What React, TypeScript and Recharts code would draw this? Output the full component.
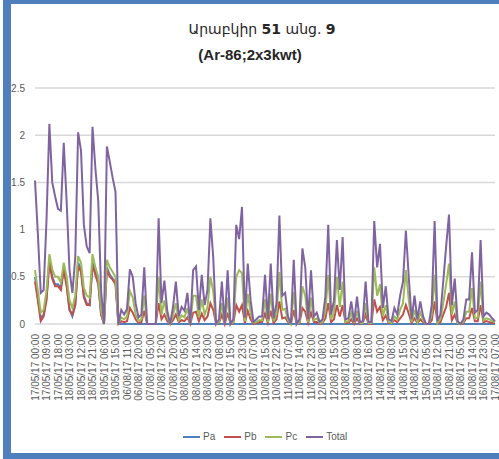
import React from 'react';
import { LineChart, Line, XAxis, YAxis, CartesianGrid } from 'recharts';

// tick labels, one every STEP points
const TIME_LABELS = [
  '17/05/17 00:00', '17/05/17 09:00', '17/05/17 18:00', '18/05/17 03:00',
  '18/05/17 12:00', '18/05/17 21:00', '19/05/17 06:00', '19/05/17 15:00',
  '06/08/17 11:00', '06/08/17 20:00', '07/08/17 05:00', '07/08/17 12:00',
  '07/08/17 20:00', '08/08/17 05:00', '08/08/17 14:00', '08/08/17 23:00',
  '09/08/17 08:00', '09/08/17 15:00', '09/08/17 23:00', '10/08/17 07:00',
  '10/08/17 15:00', '10/08/17 22:00', '11/08/17 07:00', '11/08/17 14:00',
  '11/08/17 23:00', '12/08/17 08:00', '12/08/17 15:00', '13/08/17 00:00',
  '13/08/17 08:00', '13/08/17 16:00', '14/08/17 00:00', '14/08/17 08:00',
  '14/08/17 15:00', '14/08/17 22:00', '15/08/17 05:00', '15/08/17 12:00',
  '15/08/17 21:00', '16/08/17 05:00', '16/08/17 14:00', '16/08/17 23:00',
  '17/08/17 07:00',
];
const STEP = 4;

const PA = [
  0.5, 0.28, 0.06, 0.1, 0.28, 0.68, 0.5, 0.42,
  0.42, 0.38, 0.6, 0.42, 0.15, 0.08, 0.2, 0.65,
  0.58, 0.3, 0.22, 0.2, 0.65, 0.55, 0.45, 0.1,
  0, 0.6, 0.52, 0.48, 0.45, 0, 0, 0,
  0, 0, 0, 0, 0, 0, 0, 0,
  0, 0, 0, 0, 0, 0, 0, 0,
  0, 0, 0, 0, 0, 0, 0, 0,
  0, 0, 0, 0, 0, 0, 0, 0,
  0, 0, 0, 0, 0, 0, 0, 0,
  0, 0, 0, 0, 0, 0, 0, 0,
  0, 0, 0, 0, 0, 0, 0, 0,
  0, 0, 0, 0, 0, 0, 0, 0,
  0, 0, 0, 0, 0, 0, 0, 0,
  0, 0, 0, 0, 0, 0, 0, 0,
  0, 0, 0, 0, 0, 0, 0, 0,
  0, 0, 0, 0, 0, 0, 0, 0,
  0, 0, 0, 0, 0, 0, 0, 0,
  0, 0, 0, 0, 0, 0, 0, 0,
  0, 0, 0, 0, 0, 0, 0, 0,
  0, 0, 0, 0, 0, 0, 0, 0,
  0,
];

const PB = [
  0.45, 0.25, 0.03, 0.08, 0.25, 0.65, 0.48, 0.4,
  0.4, 0.36, 0.58, 0.4, 0.15, 0.1, 0.2, 0.62,
  0.55, 0.28, 0.2, 0.2, 0.62, 0.52, 0.42, 0.1,
  0, 0.58, 0.5, 0.47, 0.42, 0, 0.03, 0.02,
  0.03, 0.17, 0.12, 0.05, 0.01, 0.02, 0.14, 0,
  0, 0, 0, 0.22, 0.05, 0.1, 0.03, 0,
  0.04, 0.1, 0.02, 0.04, 0.03, 0.07, 0, 0.12,
  0.13, 0.03, 0.11, 0.04, 0.08, 0.22, 0.15, 0,
  0.01, 0.1, 0, 0.12, 0, 0.01, 0.2, 0.13,
  0.2, 0.01, 0.14, 0.05, 0, 0.01, 0.02, 0.02,
  0.11, 0.01, 0.14, 0.01, 0.05, 0.24, 0.06, 0.07,
  0.02, 0, 0.15, 0, 0.01, 0.17, 0.13, 0.01,
  0.12, 0.02, 0.02, 0, 0.01, 0.06, 0.22, 0.02,
  0.05, 0.2, 0.08, 0.2, 0.01, 0.01, 0.05, 0,
  0.06, 0, 0.01, 0.1, 0, 0, 0.26, 0.13,
  0.18, 0.04, 0.09, 0.01, 0.01, 0.04, 0.02, 0.06,
  0.1, 0.2, 0.11, 0.01, 0.06, 0.01, 0.05, 0.02,
  0, 0, 0.04, 0.24, 0.01, 0.02, 0.1, 0.18,
  0.33, 0.04, 0.1, 0.01, 0, 0.01, 0.06, 0.06,
  0.17, 0.03, 0.03, 0.2, 0.02, 0.03, 0.02, 0.01,
  0.01,
];

const PC = [
  0.57, 0.35, 0.12, 0.15, 0.35, 0.74, 0.58, 0.5,
  0.5, 0.44, 0.65, 0.5, 0.25, 0.17, 0.3, 0.72,
  0.65, 0.38, 0.3, 0.28, 0.74, 0.6, 0.5, 0.15,
  0, 0.68, 0.6, 0.55, 0.5, 0, 0.07, 0.05,
  0.08, 0.35, 0.28, 0.1, 0.03, 0.05, 0.3, 0,
  0, 0, 0, 0.5, 0.1, 0.25, 0.07, 0,
  0.09, 0.22, 0.04, 0.09, 0.07, 0.17, 0, 0.3,
  0.3, 0.07, 0.26, 0.1, 0.18, 0.5, 0.35, 0,
  0.02, 0.22, 0, 0.28, 0, 0.02, 0.5, 0.57,
  0.54, 0.03, 0.32, 0.12, 0.01, 0.02, 0.04, 0.04,
  0.26, 0.02, 0.32, 0.03, 0.11, 0.55, 0.15, 0.16,
  0.04, 0, 0.34, 0, 0.02, 0.4, 0.3, 0.02,
  0.28, 0.04, 0.06, 0.01, 0.02, 0.14, 0.52, 0.05,
  0.12, 0.5, 0.18, 0.45, 0.02, 0.03, 0.12, 0.01,
  0.14, 0.01, 0.01, 0.22, 0.01, 0.01, 0.6, 0.3,
  0.42, 0.08, 0.2, 0.02, 0.01, 0.08, 0.05, 0.15,
  0.22, 0.57, 0.25, 0.02, 0.15, 0.02, 0.12, 0.04,
  0, 0, 0.1, 0.52, 0.01, 0.05, 0.22, 0.42,
  0.64, 0.1, 0.24, 0.01, 0, 0.02, 0.13, 0.13,
  0.38, 0.06, 0.07, 0.45, 0.04, 0.06, 0.05, 0.03,
  0.02,
];

const TOTAL = [
  1.52, 0.95, 0.33, 0.36, 1.1, 2.12, 1.5, 1.35,
  1.22, 1.2, 1.92, 1.3, 0.57, 0.33, 0.7, 2.03,
  1.84, 1.05, 0.82, 0.75, 2.09, 1.65, 1.3, 0.35,
  0, 1.88, 1.72, 1.55, 1.4, 0, 0.15, 0.1,
  0.16, 0.58, 0.5, 0.22, 0.07, 0.1, 0.6, 0,
  0, 0, 0, 1.12, 0.22, 0.46, 0.14, 0,
  0.18, 0.45, 0.08, 0.18, 0.14, 0.33, 0, 0.57,
  0.61, 0.15, 0.52, 0.2, 0.36, 1.12, 0.7, 0,
  0.05, 0.45, 0, 0.57, 0, 0.05, 1.05, 0.9,
  1.24, 0.07, 0.64, 0.25, 0.02, 0.05, 0.08, 0.08,
  0.52, 0.05, 0.64, 0.06, 0.22, 1.15, 0.3, 0.33,
  0.08, 0, 0.68, 0, 0.05, 0.8, 0.6, 0.05,
  0.57, 0.08, 0.12, 0.02, 0.05, 0.29, 1.05, 0.1,
  0.25, 0.89, 0.36, 0.92, 0.05, 0.06, 0.24, 0.02,
  0.29, 0.02, 0.03, 0.45, 0.02, 0.02, 1.09, 0.6,
  0.85, 0.17, 0.4, 0.05, 0.03, 0.17, 0.1, 0.3,
  0.45, 0.99, 0.5, 0.05, 0.3, 0.05, 0.24, 0.08,
  0, 0, 0.2, 1.09, 0.03, 0.1, 0.45, 0.82,
  1.16, 0.2, 0.48, 0.03, 0, 0.05, 0.26, 0.26,
  0.76, 0.12, 0.15, 0.89, 0.08, 0.12, 0.1, 0.06,
  0.03,
];

const Y_TICKS = [0, 0.5, 1, 1.5, 2, 2.5];

const SERIES = [
  { key: 'pa', name: 'Pa', color: '#4f81bd' },
  { key: 'pb', name: 'Pb', color: '#c0504d' },
  { key: 'pc', name: 'Pc', color: '#9bbb59' },
  { key: 'total', name: 'Total', color: '#8064a2' },
];

const data = TOTAL.map((t, i) => ({ idx: i, pa: PA[i], pb: PB[i], pc: PC[i], total: t }));
const xTicks = TIME_LABELS.map((_, k) => k * STEP);

const AXIS_FONT = '"Liberation Sans", Arial, sans-serif';
const BORDER = '#4f7fbd';

function TimeTick({ x, y, payload }: any) {
  const label = TIME_LABELS[Math.round(payload.value / STEP)];
  return (
    <text
      x={x}
      y={y}
      dx={-2}
      dy="0.35em"
      transform={`rotate(-90 ${x} ${y})`}
      textAnchor="end"
      fill="#595959"
      fontSize={10}
      fontFamily={AXIS_FONT}
    >
      {label}
    </text>
  );
}

export default function App() {
  return (
    <div style={{ position: 'absolute', left: 0, top: 0, width: 499, height: 459, background: '#fff', overflow: 'hidden' }}>
      <LineChart
        width={499}
        height={459}
        data={data}
        margin={{ top: 88, right: 4, bottom: 35, left: 0 }}
      >
        <CartesianGrid vertical={false} stroke="#d9d9d9" strokeWidth={1.5} />
        <XAxis
          dataKey="idx"
          type="number"
          domain={[0, 160]}
          ticks={xTicks}
          interval={0}
          height={100}
          tickLine={false}
          axisLine={false}
          tick={<TimeTick />}
        />
        <YAxis
          domain={[0, 2.5]}
          ticks={Y_TICKS}
          width={35}
          tickLine={false}
          axisLine={false}
          tickMargin={4}
          tick={{ fill: '#595959', fontSize: 10, fontFamily: AXIS_FONT }}
        />
        {SERIES.map((s) => (
          <Line
            key={s.key}
            type="linear"
            dataKey={s.key}
            name={s.name}
            stroke={s.color}
            strokeWidth={2}
            dot={false}
            activeDot={false}
            isAnimationActive={false}
          />
        ))}
      </LineChart>

      {/* title */}
      <div
        style={{
          position: 'absolute', left: 162, width: 200, top: 20, textAlign: 'center',
          fontFamily: '"DejaVu Sans", sans-serif', fontSize: 14, color: '#262626', lineHeight: '18px',
        }}
      >
        Արաբկիր <b>51</b> անց. <b>9</b>
      </div>
      <div
        style={{
          position: 'absolute', left: 150, width: 200, top: 46, textAlign: 'center',
          fontFamily: AXIS_FONT, fontWeight: 'bold', fontSize: 15, color: '#262626', lineHeight: '18px',
        }}
      >
        (Ar-86;2x3kwt)
      </div>

      {/* legend */}
      <div
        style={{
          position: 'absolute', left: 183, top: 430, display: 'flex', alignItems: 'center',
          fontFamily: AXIS_FONT, fontSize: 10, color: '#595959', lineHeight: '14px',
        }}
      >
        {SERIES.map((s) => (
          <div key={s.key} style={{ display: 'flex', alignItems: 'center', marginRight: 9 }}>
            <span style={{ display: 'inline-block', width: 17, height: 2, background: s.color, marginRight: 3 }} />
            <span>{s.name}</span>
          </div>
        ))}
      </div>

      {/* frame */}
      <div style={{ position: 'absolute', left: 3, top: 0, width: 8, height: 459, background: BORDER }} />
      <div style={{ position: 'absolute', left: 3, top: 0, width: 496, height: 4, background: BORDER }} />
      <div style={{ position: 'absolute', left: 3, top: 453, width: 496, height: 6, background: BORDER }} />
    </div>
  );
}
